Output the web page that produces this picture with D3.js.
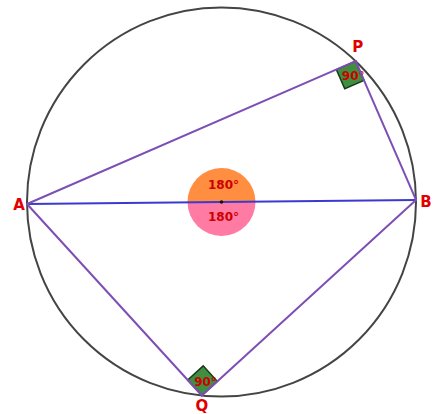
<!DOCTYPE html>
<html><head><meta charset="utf-8">
<script src="https://cdn.jsdelivr.net/npm/d3@7"></script>
<style>body{margin:0;background:#fff}svg{display:block}</style>
</head><body>
<script>
// Points on unit circle (angles in degrees, math convention)
const pointNames = ["A", "B", "P", "Q"];
const pointAngles = [180.6, 0.6, 46.4, -95.8];
const segments = [["A","B"],["A","P"],["P","B"],["A","Q"],["Q","B"]];
const rightAngles = [["P","A","B"],["Q","A","B"]];
const rightLabels = ["90°", "90°"];
const centralLabels = ["180°", "180°"];

const W = 434, H = 414;
const svg = d3.select("body").append("svg").attr("width", W).attr("height", H);
const x = d3.scaleLinear().domain([-1, 1]).range([221.5 - 194.5, 221.5 + 194.5]);
const y = d3.scaleLinear().domain([-1, 1]).range([202 + 194.5, 202 - 194.5]);
const R = x(1) - x(0);

const pts = {};
pointNames.forEach((n, i) => {
  const a = pointAngles[i] * Math.PI / 180;
  pts[n] = [x(Math.cos(a)), y(Math.sin(a))];
});
const C = [x(0), y(0)];

// circle
svg.append("circle").attr("cx", C[0]).attr("cy", C[1]).attr("r", R)
  .attr("fill", "none").attr("stroke", "#444").attr("stroke-width", 2);

// central semicircles
const abAng = Math.atan2(pts.B[1] - pts.A[1], pts.B[0] - pts.A[0]);
const cr = 34;
function semi(sign) {
  const p = d3.path();
  p.moveTo(C[0] + cr * Math.cos(abAng), C[1] + cr * Math.sin(abAng));
  p.arc(C[0], C[1], cr, abAng, abAng + Math.PI, sign < 0);
  p.closePath();
  return p.toString();
}
svg.append("path").attr("d", semi(-1)).attr("fill", "#ff7a1f").attr("fill-opacity", 0.85);
svg.append("path").attr("d", semi(1)).attr("fill", "#ff5a8c").attr("fill-opacity", 0.8);

// right angle squares
const s = 21;
rightAngles.forEach((ra, i) => {
  const V = pts[ra[0]], P1 = pts[ra[1]], P2 = pts[ra[2]];
  const u = [P1[0]-V[0], P1[1]-V[1]], lu = Math.hypot(u[0],u[1]);
  const v = [P2[0]-V[0], P2[1]-V[1]], lv = Math.hypot(v[0],v[1]);
  const uu = [u[0]/lu*s, u[1]/lu*s], vv = [v[0]/lv*s, v[1]/lv*s];
  const poly = [V, [V[0]+uu[0], V[1]+uu[1]], [V[0]+uu[0]+vv[0], V[1]+uu[1]+vv[1]], [V[0]+vv[0], V[1]+vv[1]]];
  svg.append("polygon").attr("points", poly.map(p => p.join(",")).join(" "))
    .attr("fill", "#1f7a1f").attr("fill-opacity", 0.85)
    .attr("stroke", "#1a3a1a").attr("stroke-width", 1.5);
  svg.append("text").attr("x", V[0]+(uu[0]+vv[0])/2 + 3).attr("y", V[1]+(uu[1]+vv[1])/2 + 5)
    .attr("text-anchor", "middle").attr("font-family", "DejaVu Sans").attr("font-weight", "bold")
    .attr("font-size", 12).attr("fill", "#cc0000").text(rightLabels[i]);
});

// segments
segments.forEach(([a, b]) => {
  const ab = (a === "A" && b === "B");
  svg.append("line").attr("x1", pts[a][0]).attr("y1", pts[a][1]).attr("x2", pts[b][0]).attr("y2", pts[b][1])
    .attr("stroke", ab ? "#3a3ad0" : "#7d4fb5").attr("stroke-width", 2).attr("stroke-linecap", "round");
});

// center dot
svg.append("circle").attr("cx", C[0]).attr("cy", C[1]).attr("r", 1.8).attr("fill", "#111");

// central labels
svg.append("text").attr("x", C[0] + 2).attr("y", C[1] - 13).attr("text-anchor", "middle")
  .attr("font-family", "DejaVu Sans").attr("font-weight", "bold").attr("font-size", 12).attr("fill", "#cc0000").text(centralLabels[0]);
svg.append("text").attr("x", C[0] + 2).attr("y", C[1] + 19).attr("text-anchor", "middle")
  .attr("font-family", "DejaVu Sans").attr("font-weight", "bold").attr("font-size", 12).attr("fill", "#cc0000").text(centralLabels[1]);

// point labels
const labelOffsets = {A: [-8, 6, "middle"], B: [10, 7, "middle"], P: [2, -9, "middle"], Q: [0, 15, "middle"]};
pointNames.forEach(n => {
  const o = labelOffsets[n];
  svg.append("text").attr("x", pts[n][0] + o[0]).attr("y", pts[n][1] + o[1]).attr("text-anchor", o[2])
    .attr("font-family", "DejaVu Sans").attr("font-weight", "bold").attr("font-size", 15).attr("fill", "#e00000").text(n);
});
</script>
</body></html>
